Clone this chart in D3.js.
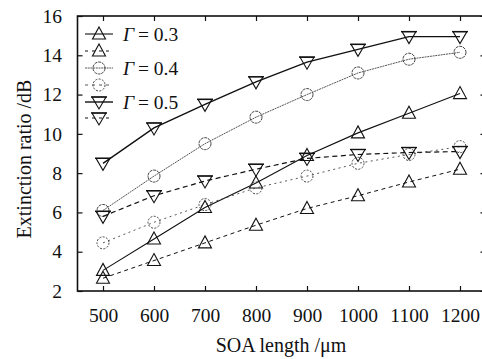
<!DOCTYPE html>
<html>
<head>
<meta charset="utf-8">
<script src="https://cdn.jsdelivr.net/npm/d3@7"></script>
<style>
  html, body { margin: 0; padding: 0; background: #fff; }
  svg { display: block; }
  text { font-family: "Liberation Serif", "Times New Roman", serif; fill: #111; }
</style>
</head>
<body>
<svg id="chart" width="482" height="359"></svg>
<script>
// SOA length (µm) on the x axis
const soaLength = [500, 600, 700, 800, 900, 1000, 1100, 1200];

// Extinction ratio (dB) for each confinement factor; solid and dashed curves
const gamma03Solid  = [3.05, 4.65, 6.25, 7.5, 8.9, 10.05, 11.05, 12.05];
const gamma03Dashed = [2.65, 3.55, 4.45, 5.35, 6.2, 6.85, 7.55, 8.2];
const gamma04Solid  = [6.1, 7.85, 9.5, 10.85, 12.0, 13.1, 13.8, 14.15];
const gamma04Dashed = [4.45, 5.5, 6.4, 7.25, 7.85, 8.5, 8.95, 9.35];
const gamma05Solid  = [8.5, 10.3, 11.5, 12.65, 13.65, 14.3, 14.95, 14.95];
const gamma05Dashed = [5.8, 6.85, 7.6, 8.2, 8.75, 8.95, 9.05, 9.1];

const xTicks = [500, 600, 700, 800, 900, 1000, 1100, 1200];
const yTicks = [2, 4, 6, 8, 10, 12, 14, 16];
const legendLabels = ["0.3", "0.4", "0.5"];

const series = [
  { values: gamma03Solid,  marker: "up",     stroke: "#111", width: 1.1, dash: null,    label: legendLabels[0] },
  { values: gamma03Dashed, marker: "up",     stroke: "#111", width: 1.0, dash: "4,3.5", label: null },
  { values: gamma04Solid,  marker: "circle", stroke: "#444", width: 0.9, dash: "2,0.7", label: legendLabels[1] },
  { values: gamma04Dashed, marker: "circle", stroke: "#444", width: 0.9, dash: "2,3.5", label: null },
  { values: gamma05Solid,  marker: "down",   stroke: "#111", width: 1.4, dash: null,    label: legendLabels[2] },
  { values: gamma05Dashed, marker: "down",   stroke: "#111", width: 1.2, dash: "5,3.5", label: null }
];

const svg = d3.select("#chart");
const plot = { left: 77.5, right: 485.5, top: 16, bottom: 291 };

const x = d3.scaleLinear().domain([450, 1250]).range([plot.left, plot.right]);
const y = d3.scaleLinear().domain([2, 16]).range([plot.bottom, plot.top]);

// Axes with inward ticks on all four sides
const tickLen = 5;
const plain = d3.format("d");
svg.append("g")
  .attr("transform", `translate(0,${plot.bottom})`)
  .call(d3.axisBottom(x).tickValues(xTicks).tickFormat(plain).tickSizeInner(-tickLen).tickSizeOuter(0).tickPadding(17.5))
  .call(g => g.select(".domain").remove())
  .call(g => g.selectAll("text").attr("font-size", 19.5).attr("font-family", "Liberation Serif"));

svg.append("g")
  .attr("transform", `translate(0,${plot.top})`)
  .call(d3.axisTop(x).tickValues(xTicks).tickSizeInner(-tickLen).tickSizeOuter(0).tickFormat(""))
  .call(g => g.select(".domain").remove());

svg.append("g")
  .attr("transform", `translate(${plot.left},0)`)
  .call(d3.axisLeft(y).tickValues(yTicks).tickFormat(plain).tickSizeInner(-tickLen).tickSizeOuter(0).tickPadding(15.5))
  .call(g => g.select(".domain").remove())
  .call(g => g.selectAll("text").attr("font-size", 19.5).attr("font-family", "Liberation Serif"));

svg.append("g")
  .attr("transform", `translate(${plot.right},0)`)
  .call(d3.axisRight(y).tickValues(yTicks).tickSizeInner(-tickLen).tickSizeOuter(0).tickFormat(""))
  .call(g => g.select(".domain").remove());

svg.selectAll(".tick line").attr("stroke", "#111").attr("stroke-width", 1.2);

// Plot frame
svg.append("rect")
  .attr("x", plot.left).attr("y", plot.top)
  .attr("width", plot.right - plot.left).attr("height", plot.bottom - plot.top)
  .attr("fill", "none").attr("stroke", "#111").attr("stroke-width", 1.6);

// Marker shapes
function drawMarker(g, type, cx, cy, s) {
  if (type === "circle") {
    g.append("circle").attr("cx", cx).attr("cy", cy).attr("r", 6)
      .attr("fill", "none").attr("stroke", s.stroke).attr("stroke-width", 1)
      .attr("stroke-dasharray", s.dash && s.dash.startsWith("2,3") ? "2,1.4" : "3,0.8");
  } else if (type === "up") {
    g.append("path")
      .attr("d", `M${cx},${cy - 7} L${cx + 6.5},${cy + 5} L${cx - 6.5},${cy + 5} Z`)
      .attr("fill", "none").attr("stroke", "#111").attr("stroke-width", 1.1);
  } else {
    g.append("path")
      .attr("d", `M${cx - 7},${cy - 5} L${cx + 7},${cy - 5} L${cx},${cy + 7} Z`)
      .attr("fill", "none").attr("stroke", "#111").attr("stroke-width", 1.1);
    g.append("line")
      .attr("x1", cx - 8).attr("x2", cx + 8).attr("y1", cy - 5).attr("y2", cy - 5)
      .attr("stroke", "#111").attr("stroke-width", 1.4);
  }
}

const line = d3.line().x((d, i) => x(soaLength[i])).y(d => y(d));

series.forEach(s => {
  const g = svg.append("g");
  g.append("path")
    .attr("d", line(s.values))
    .attr("fill", "none")
    .attr("stroke", s.stroke)
    .attr("stroke-width", s.width)
    .attr("stroke-dasharray", s.dash);
  s.values.forEach((v, i) => drawMarker(g, s.marker, x(soaLength[i]), y(v), s));
});

// Legend
const legendRowY = [34, 51, 68, 85, 102, 118];
const legend = svg.append("g");
series.forEach((s, i) => {
  const ly = legendRowY[i];
  const g = legend.append("g");
  const dashedRow = s.label === null;
  g.append("line")
    .attr("x1", 85).attr("x2", 113).attr("y1", ly).attr("y2", ly)
    .attr("stroke", s.stroke).attr("stroke-width", s.width)
    .attr("stroke-dasharray", dashedRow ? "3,4" : s.dash);
  drawMarker(g, s.marker, 99, ly, s);
  if (s.label) {
    const t = g.append("text").attr("x", 123).attr("y", ly + 6.5).attr("font-size", 19.5);
    t.append("tspan").attr("font-style", "italic").text("Γ");
    t.append("tspan").text("\u2009= " + s.label);
  }
});

// Axis titles
svg.append("text")
  .attr("x", 281).attr("y", 352)
  .attr("text-anchor", "middle").attr("font-size", 20)
  .text("SOA length /μm");

svg.append("text")
  .attr("transform", "translate(31,159) rotate(-90)")
  .attr("text-anchor", "middle").attr("font-size", 20)
  .text("Extinction ratio /dB");
</script>
</body>
</html>
